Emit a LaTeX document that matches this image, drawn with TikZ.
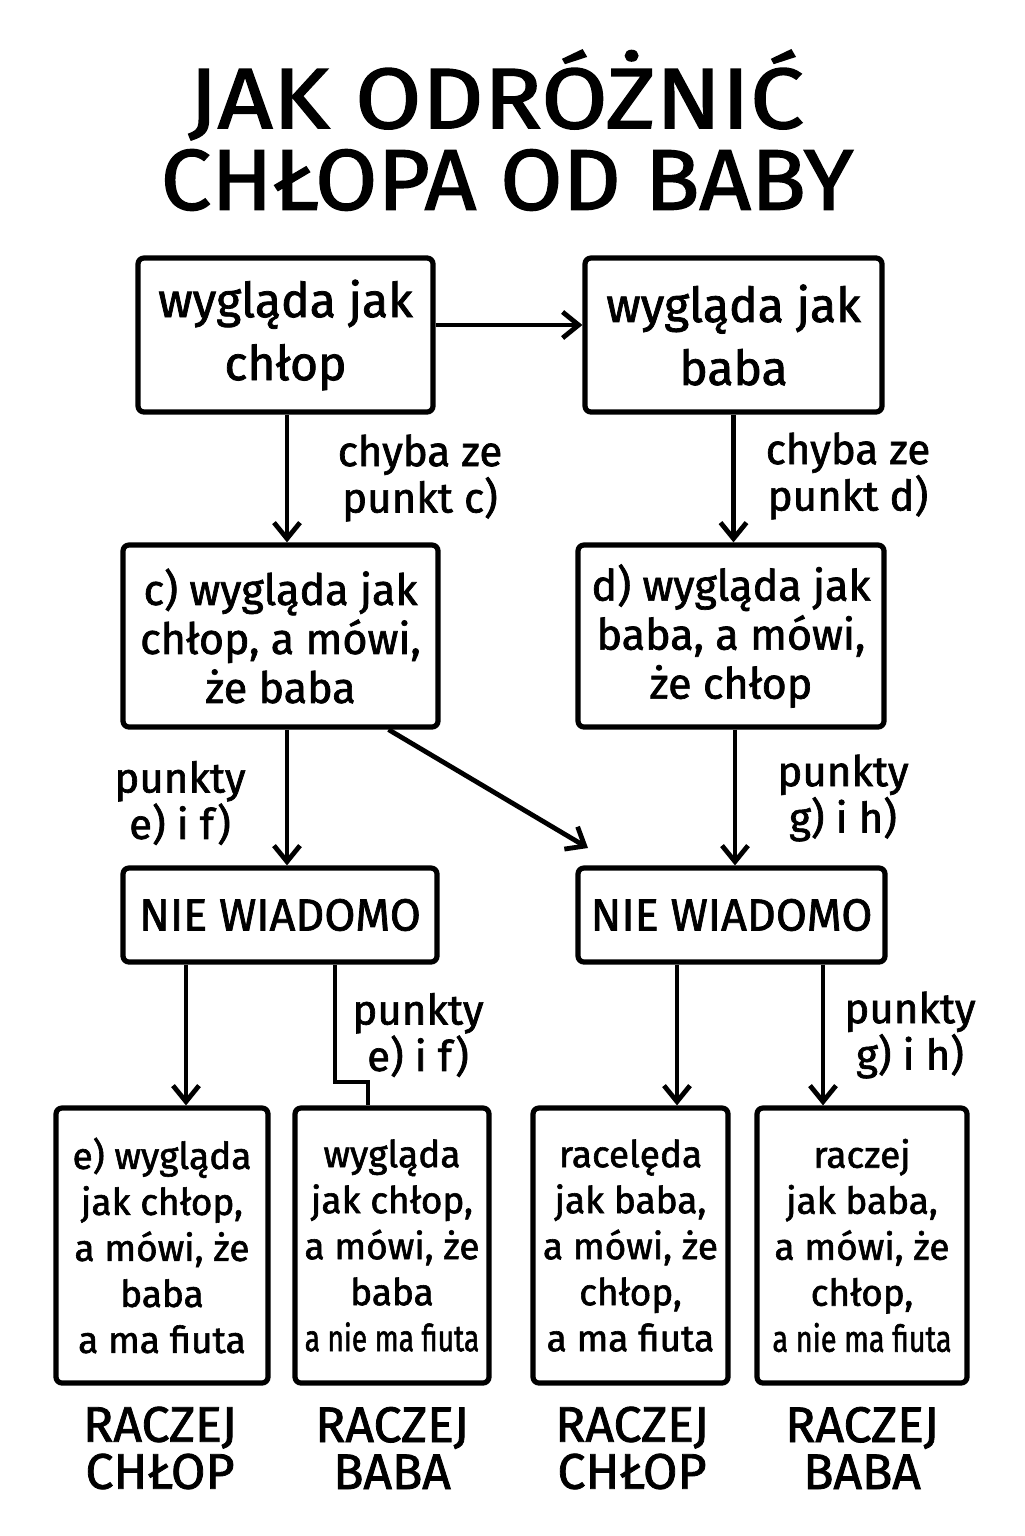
\documentclass[tikz,border=0pt]{standalone}
\usepackage{fontspec}
\usepackage{graphicx}
\setmainfont{Fira Sans}[FakeBold=1.6]
\usetikzlibrary{arrows.meta}
\begin{document}
\begin{tikzpicture}[x=0.5pt,y=-0.5pt,
  box/.style={draw,line width=2.6pt,rounded corners=3pt,align=center,inner sep=0pt},
  sz/.style 2 args={minimum width={#1*0.5pt},minimum height={#2*0.5pt}},
  fa/.style={font=\fontsize{24}{31.5}\selectfont},
  fc/.style={font=\fontsize{21.5}{24.5}\selectfont},
  fn/.style={font=\fontsize{22.5}{24}\selectfont},
  fb/.style={font=\fontsize{18.5}{23}\selectfont},
  lbl/.style={align=center,font=\fontsize{21}{21.5}\selectfont},
  res/.style={align=center,font=\fontsize{25}{23.5}\selectfont},
  ttl/.style={font=\fontsize{43}{43}\selectfont},
  arr/.style={line width=2.4pt,-{Straight Barb[length=8pt,width=13pt,line width=2.4pt]}},
  ln/.style={line width=2.4pt}]
\useasboundingbox (0,0) rectangle (1024,1536);
\fill[white] (0,0) rectangle (1024,1536);
% title
\node[ttl] (t1) at (496,95) {\scalebox{1.12}[1]{JAK ODRÓŻNIĆ}};
\node[ttl] (t2) at (507,180) {\scalebox{1.05}[1]{CHŁOPA OD BABY}};
% boxes
\node[box,fa,sz={295}{154}] (A) at (285.5,335) {wygląda jak\\chłop};
\node[box,fa,sz={297}{154}] (B) at (733.5,335) {wygląda jak\\baba};
\node[box,fc,sz={315}{182}] (C) at (280.5,636) {c) wygląda jak\\chłop, a mówi,\\że baba};
\node[box,fc,sz={306}{182}] (D) at (731,636) {d) wygląda jak\\baba, a mówi,\\że chłop};
\node[box,fn,sz={314}{94}] (E) at (280,915) {NIE WIADOMO};
\node[box,fn,sz={307}{94}] (F) at (731.5,915) {NIE WIADOMO};
\node[box,fb,sz={212}{275}] (L1) at (162,1245.5) {e) wygląda\\jak chłop,\\a mówi, że\\baba\\a ma fiuta};
\node[box,fb,sz={194}{275}] (L2) at (392,1245.5) {wygląda\\jak chłop,\\a mówi, że\\baba\\\scalebox{0.76}[1]{a nie ma fiuta}};
\node[box,fb,sz={195}{275}] (L3) at (630.5,1245.5) {racelęda\\jak baba,\\a mówi, że\\chłop,\\a ma fiuta};
\node[box,fb,sz={210}{275}] (L4) at (862,1245.5) {raczej\\jak baba,\\a mówi, że\\chłop,\\\scalebox{0.78}[1]{a nie ma fiuta}};
% labels
\node[lbl] (la) at (420,478) {chyba ze\\punkt c)};
\node[lbl] (lb) at (848,476) {chyba ze\\punkt d)};
\node[lbl] (lc) at (180,803) {punkty\\e) i f)};
\node[lbl] (ld) at (843,798) {punkty\\g) i h)};
\node[lbl] (le) at (418,1035) {punkty\\e) i f)};
\node[lbl] (lf) at (910,1035) {punkty\\g) i h)};
% results
\node[res] (r1) at (160,1448) {RACZEJ\\CHŁOP};
\node[res] (r2) at (392,1448) {RACZEJ\\BABA};
\node[res] (r3) at (632,1448) {RACZEJ\\CHŁOP};
\node[res] (r4) at (862,1448) {RACZEJ\\BABA};
% connectors
\draw[arr] ([yshift=5pt]A.east) -- ([yshift=5pt]B.west);
\draw[arr] ([xshift=0.75pt]A.south) -- ([xshift=0.75pt]A.south |- C.north);
\draw[arr] (B.south) -- (B.south |- D.north);
\draw[arr] ([xshift=3.25pt]C.south) -- ([xshift=3.25pt]C.south |- E.north);
\coordinate (dg) at (588,848);
\draw[arr] ([xshift=54pt]C.south) -- (dg);
\draw[arr] ([xshift=2pt]D.south) -- ([xshift=2pt]D.south |- F.north);
\draw[arr] ([xshift=-47pt]E.south) -- ([xshift=-47pt]E.south |- L1.north);
\coordinate (k1) at (335,1082);
\coordinate (k2) at (368,1082);
\draw[ln] ([xshift=27.5pt]E.south) -- (k1) -- (k2) -- (k2 |- L2.north);
\draw[arr] ([xshift=-27.25pt]F.south) -- ([xshift=-27.25pt]F.south |- L3.north);
\draw[arr] ([xshift=45.75pt]F.south) -- ([xshift=45.75pt]F.south |- L4.north);
\end{tikzpicture}
\end{document}
